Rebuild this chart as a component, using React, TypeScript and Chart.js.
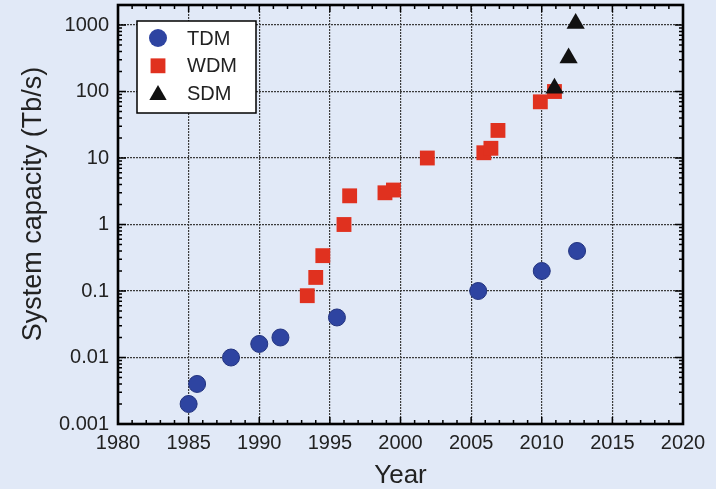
import React, { useEffect, useRef } from 'react';
import { Chart, registerables } from 'chart.js';

Chart.register(...registerables);

// ---- data ----
const tdmYears = [1985, 1985.6, 1988, 1990, 1991.5, 1995.5, 2005.5, 2010, 2012.5];
const tdmCapacity = [0.002, 0.004, 0.01, 0.016, 0.02, 0.04, 0.1, 0.2, 0.4];
const wdmYears = [1993.4, 1994, 1994.5, 1996, 1996.4, 1998.9, 1999.5, 2001.9, 2005.9, 2006.4, 2006.9, 2009.9, 2010.9];
const wdmCapacity = [0.085, 0.16, 0.34, 1.0, 2.7, 3.0, 3.3, 10, 12, 14, 26, 70, 100];
const sdmYears = [2010.9, 2011.9, 2012.4];
const sdmCapacity = [112, 320, 1050];

const yearTicks = [1980, 1985, 1990, 1995, 2000, 2005, 2010, 2015, 2020];
const capacityTicks = [0.001, 0.01, 0.1, 1, 10, 100, 1000];
const capacityTickLabels = ['0.001', '0.01', '0.1', '1', '10', '100', '1000'];

const seriesNames = ['TDM', 'WDM', 'SDM'];
const xTitle = 'Year';
const yTitle = 'System capacity (Tb/s)';

const BG = '#e1e9f7';
const BLUE = '#2e44a1';
const RED = '#e0311f';
const BLACK = '#111111';
const TEXT = '#222222';
const GRID = '#3c3c3c';
const FONT = '"Liberation Sans", Arial, Helvetica, sans-serif';

const toPoints = (xs: number[], ys: number[]) => xs.map((x, i) => ({ x, y: ys[i] }));

function drawMarker(ctx: CanvasRenderingContext2D, style: string, x: number, y: number, r: number, fill: string) {
  ctx.save();
  ctx.fillStyle = fill;
  ctx.beginPath();
  if (style === 'circle') {
    ctx.arc(x, y, r, 0, Math.PI * 2);
  } else if (style === 'rect') {
    const s = r * Math.SQRT1_2;
    ctx.rect(x - s, y - s, 2 * s, 2 * s);
  } else {
    let rad = 0;
    ctx.moveTo(x + Math.sin(rad) * r, y - Math.cos(rad) * r);
    rad += (2 * Math.PI) / 3;
    ctx.lineTo(x + Math.sin(rad) * r, y - Math.cos(rad) * r);
    rad += (2 * Math.PI) / 3;
    ctx.lineTo(x + Math.sin(rad) * r, y - Math.cos(rad) * r);
    ctx.closePath();
  }
  ctx.fill();
  ctx.restore();
}

const framePlugin = {
  id: 'framePlugin',
  afterDraw(chart: any) {
    const { ctx, chartArea } = chart;
    const { left, right, top, bottom } = chartArea;
    const xs = chart.scales.x;
    const ys = chart.scales.y;
    ctx.save();
    ctx.strokeStyle = '#000';
    // tick marks (inward)
    ctx.lineWidth = 1.5;
    for (let yr = xs.min; yr <= xs.max; yr++) {
      const px = xs.getPixelForValue(yr);
      const len = yr % 5 === 0 ? 7 : 4;
      ctx.beginPath();
      ctx.moveTo(px, bottom);
      ctx.lineTo(px, bottom - len);
      ctx.moveTo(px, top);
      ctx.lineTo(px, top + len);
      ctx.stroke();
    }
    for (let e = -3; e <= 3; e++) {
      for (let m = 1; m <= 9; m++) {
        const v = m * Math.pow(10, e);
        if (v > ys.max) continue;
        const py = ys.getPixelForValue(v);
        const len = m === 1 ? 8 : 4;
        ctx.beginPath();
        ctx.moveTo(left, py);
        ctx.lineTo(left + len, py);
        ctx.moveTo(right, py);
        ctx.lineTo(right - len, py);
        ctx.stroke();
      }
    }
    // frame
    ctx.lineWidth = 2.6;
    ctx.strokeRect(left, top, right - left, bottom - top);

    // y title
    ctx.fillStyle = TEXT;
    ctx.font = `27px ${FONT}`;
    ctx.textAlign = 'center';
    ctx.textBaseline = 'middle';
    ctx.translate(34, 204);
    ctx.rotate(-Math.PI / 2);
    ctx.fillText(yTitle, 0, 0);
    ctx.restore();

    // legend
    ctx.save();
    const lx = left + 19;
    const ly = top + 16;
    const lw = 119;
    const lh = 92;
    ctx.fillStyle = '#ffffff';
    ctx.fillRect(lx, ly, lw, lh);
    ctx.strokeStyle = '#000';
    ctx.lineWidth = 1.5;
    ctx.strokeRect(lx, ly, lw, lh);
    const styles = ['circle', 'rect', 'triangle'];
    const colors = [BLUE, RED, BLACK];
    const radii = [9, 10.5, 10];
    ctx.font = `20px ${FONT}`;
    ctx.textAlign = 'left';
    ctx.textBaseline = 'middle';
    seriesNames.forEach((name, i) => {
      const cy = ly + 17 + i * 27.8;
      drawMarker(ctx, styles[i], lx + 21, cy + (i === 2 ? 1.5 : 0), radii[i], colors[i]);
      ctx.fillStyle = TEXT;
      ctx.fillText(name, lx + 50, cy + 1);
    });
    ctx.restore();
  },
};

export default function App() {
  const ref = useRef<HTMLCanvasElement | null>(null);

  useEffect(() => {
    if (!ref.current) return;
    Chart.defaults.font.family = FONT;
    const chart = new Chart(ref.current, {
      type: 'scatter',
      data: {
        datasets: [
          {
            label: seriesNames[0],
            data: toPoints(tdmYears, tdmCapacity),
            order: 2,
            pointStyle: 'circle',
            pointRadius: 8.5,
            backgroundColor: BLUE,
            borderColor: '#22337f',
            borderWidth: 1,
          },
          {
            label: seriesNames[1],
            data: toPoints(wdmYears, wdmCapacity),
            order: 1,
            pointStyle: 'rect',
            pointRadius: 10.5,
            backgroundColor: RED,
            borderColor: RED,
            borderWidth: 0,
          },
          {
            label: seriesNames[2],
            data: toPoints(sdmYears, sdmCapacity),
            order: 0,
            pointStyle: 'triangle',
            pointRadius: 10.5,
            backgroundColor: BLACK,
            borderColor: BLACK,
            borderWidth: 0,
          },
        ],
      },
      options: {
        responsive: false,
        animation: false,
        events: [],
        layout: { autoPadding: false, padding: { left: 0, top: 5, right: 33, bottom: 0 } },
        plugins: {
          legend: { display: false },
          tooltip: { enabled: false },
        },
        scales: {
          x: {
            type: 'linear',
            min: 1980,
            max: 2020,
            afterBuildTicks: (scale: any) => {
              scale.ticks = yearTicks.map((v) => ({ value: v }));
            },
            afterFit: (scale: any) => {
              scale.height = 65;
              scale.paddingLeft = 0;
              scale.paddingRight = 0;
            },
            ticks: {
              color: TEXT,
              font: { size: 20 },
              padding: 7,
              maxRotation: 0,
              callback: (v: any) => String(v),
            },
            grid: { color: GRID, lineWidth: 1.2, drawTicks: false },
            border: { display: false, dash: [2, 1] },
            title: {
              display: true,
              text: xTitle,
              color: TEXT,
              font: { size: 26, lineHeight: 1 },
              padding: { top: 0, bottom: 0 },
            },
          },
          y: {
            type: 'logarithmic',
            min: 0.001,
            max: 2000,
            bounds: 'data',
            afterBuildTicks: (scale: any) => {
              scale.ticks = capacityTicks.map((v) => ({ value: v, major: true }));
            },
            afterFit: (scale: any) => {
              scale.width = 118;
              scale.paddingTop = 0;
              scale.paddingBottom = 0;
            },
            ticks: {
              color: TEXT,
              font: { size: 20 },
              padding: 9,
              autoSkip: false,
              callback: (_v: any, i: number) => capacityTickLabels[i],
            },
            grid: { color: GRID, lineWidth: 1.2, drawTicks: false },
            border: { display: false, dash: [2, 1] },
          },
        },
      } as any,
      plugins: [framePlugin],
    });
    return () => chart.destroy();
  }, []);

  return (
    <div style={{ position: 'absolute', left: 0, top: 0, width: 716, height: 489, background: BG }}>
      <canvas ref={ref} width={716} height={489} style={{ display: 'block', width: 716, height: 489 }} />
    </div>
  );
}
